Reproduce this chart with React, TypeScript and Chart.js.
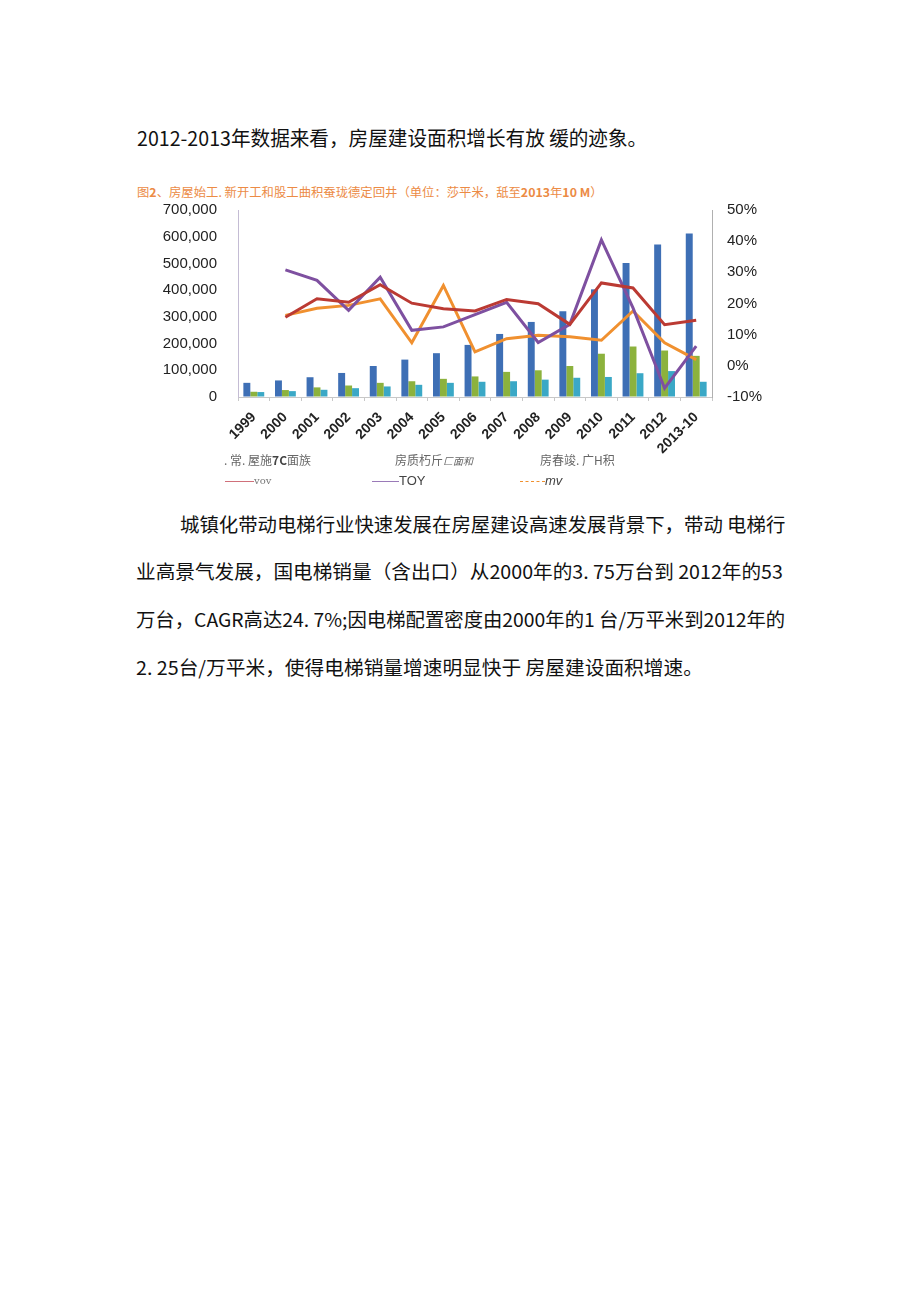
import React, { useEffect, useLayoutEffect, useRef } from "react";
import { Chart, registerables } from "chart.js";

Chart.register(...registerables);

const categories = ["1999", "2000", "2001", "2002", "2003", "2004", "2005", "2006", "2007", "2008", "2009", "2010", "2011", "2012", "2013-10"];
const constructionArea = [53000, 62000, 74000, 90000, 116000, 140000, 164000, 195000, 236000, 281000, 321000, 403000, 502000, 571000, 612000];
const newStartArea = [19600, 26000, 36000, 43000, 53000, 59000, 68000, 77000, 94000, 100000, 116000, 162000, 189000, 174000, 154000];
const completedArea = [18500, 22000, 27000, 33000, 39500, 45600, 53000, 57000, 59000, 65000, 72000, 75000, 89000, 97000, 57000];
const constructionYoY = [null, 15.6, 21.5, 20.4, 26.0, 20.1, 18.3, 17.6, 21.3, 19.9, 13.3, 26.6, 25.0, 13.2, 14.6];
const newStartYoY = [null, 30.8, 27.4, 17.8, 28.4, 11.4, 12.5, 16.4, 20.4, 7.5, 13.3, 40.4, 18.6, -7.2, 6.3];
const completedYoY = [null, 16.2, 18.5, 19.4, 21.5, 7.4, 25.8, 4.5, 8.7, 9.8, 9.3, 8.2, 17.6, 7.4, 2.0];
const leftTicks = [0, 100000, 200000, 300000, 400000, 500000, 600000, 700000];
const rightTicks = [-10, 0, 10, 20, 30, 40, 50];

const FitLine: React.FC<{ x: number; y: number; w: number; size: number; children: React.ReactNode; style?: React.CSSProperties }> = ({ x, y, w, size, children, style }) => {
  const ref = useRef<HTMLDivElement>(null);
  useLayoutEffect(() => {
    const el = ref.current;
    if (!el) return;
    el.style.transform = "none";
    const nat = el.scrollWidth;
    if (nat > 0) el.style.transform = `scaleX(${w / nat})`;
  }, [w]);
  return (
    <div
      ref={ref}
      style={{
        position: "absolute",
        left: x,
        top: y - size / 2,
        fontSize: size,
        lineHeight: `${size}px`,
        whiteSpace: "nowrap",
        transformOrigin: "left center",
        fontFamily: "'Noto Sans CJK SC', 'DejaVu Sans', sans-serif",
        color: "#111",
        display: "inline-block",
        ...style,
      }}
    >
      {children}
    </div>
  );
};

const ChartBox: React.FC = () => {
  const ref = useRef<HTMLCanvasElement>(null);
  useEffect(() => {
    if (!ref.current) return;
    const chart = new Chart(ref.current, {
      type: "bar",
      data: {
        labels: categories,
        datasets: [
          { type: "line", label: "vov", data: constructionYoY as any, yAxisID: "y1", borderColor: "#bb3a33", borderWidth: 3, pointRadius: 0, tension: 0, order: 0 },
          { type: "line", label: "TOY", data: newStartYoY as any, yAxisID: "y1", borderColor: "#7e50a0", borderWidth: 3, pointRadius: 0, tension: 0, order: 0 },
          { type: "line", label: "mv", data: completedYoY as any, yAxisID: "y1", borderColor: "#f0902f", borderWidth: 3, pointRadius: 0, tension: 0, order: 0 },
          { type: "bar", label: "施工面积", data: constructionArea, yAxisID: "y", backgroundColor: "#3e6fb5", categoryPercentage: 0.66, barPercentage: 1, order: 1 },
          { type: "bar", label: "新开工面积", data: newStartArea, yAxisID: "y", backgroundColor: "#8cb23d", categoryPercentage: 0.66, barPercentage: 1, order: 1 },
          { type: "bar", label: "竣工面积", data: completedArea, yAxisID: "y", backgroundColor: "#3aa8c6", categoryPercentage: 0.66, barPercentage: 1, order: 1 },
        ],
      },
      options: {
        animation: false,
        responsive: false,
        maintainAspectRatio: false,
        layout: { padding: { top: 13, left: 0, right: 0, bottom: 0 } },
        plugins: { legend: { display: false }, tooltip: { enabled: false }, title: { display: false } },
        scales: {
          x: {
            grid: { drawOnChartArea: false, offset: true, tickLength: 4, color: "#c8c8c8" },
            border: { color: "#c8c8c8" },
            ticks: {
              autoSkip: false,
              minRotation: 45,
              maxRotation: 45,
              padding: 8,
              color: "#222",
              font: { family: "'Liberation Sans', Arial, sans-serif", size: 14, weight: "bold" },
            },
            afterFit: (s: any) => { s.height = 58; },
          },
          y: {
            position: "left",
            min: 0,
            max: 700000,
            afterBuildTicks: (s: any) => { s.ticks = leftTicks.map((v) => ({ value: v })); },
            grid: { drawOnChartArea: false, drawTicks: false },
            border: { color: "#c4bcd4" },
            ticks: {
              padding: 21,
              color: "#222",
              font: { family: "'Liberation Sans', Arial, sans-serif", size: 15 },
              callback: (v: any) => Number(v).toLocaleString("en-US"),
            },
            afterFit: (s: any) => { s.width = 108; },
          },
          y1: {
            position: "right",
            min: -10,
            max: 50,
            afterBuildTicks: (s: any) => { s.ticks = rightTicks.map((v) => ({ value: v })); },
            grid: { drawOnChartArea: false, drawTicks: false },
            border: { color: "#b0b0b0" },
            ticks: {
              padding: 15,
              color: "#222",
              font: { family: "'Liberation Sans', Arial, sans-serif", size: 15 },
              callback: (v: any) => `${v}%`,
            },
            afterFit: (s: any) => { s.width = 78; },
          },
        },
      },
    });
    return () => chart.destroy();
  }, []);
  return <canvas ref={ref} width={660} height={275} style={{ position: "absolute", left: 130, top: 180, width: 660, height: 275 }} />;
};

const legendText: React.CSSProperties = { position: "absolute", fontSize: 12, lineHeight: "14px", color: "#666", whiteSpace: "nowrap", fontFamily: "'Noto Sans CJK SC', 'DejaVu Serif', serif" };

export default function App() {
  const orange = "#ec8b45";
  return (
    <div style={{ position: "absolute", left: 0, top: 0, width: 920, height: 1302, background: "#fff", overflow: "hidden" }}>
      <FitLine x={137} y={138} w={510} size={20}>2012-2013年数据来看，房屋建设面积增长有放 缓的迹象。</FitLine>

      <FitLine x={137} y={192} w={466} size={12} style={{ color: orange }}>
        图<b>2</b>、房屋始工. 新开工和股工曲积蚕珑德定回井（单位：莎平米，舐至<b>2013</b>年<b>10 M</b>）
      </FitLine>

      <ChartBox />

      <div style={{ ...legendText, left: 224, top: 453 }}>. 常. 屋施<b style={{ color: "#444" }}>7C</b>面族</div>
      <div style={{ ...legendText, left: 395, top: 453 }}>房质朽斤<i style={{ fontSize: 10 }}>匚面和</i></div>
      <div style={{ ...legendText, left: 540, top: 453 }}>房春竣. 广H积</div>

      <div style={{ ...legendText, left: 225, top: 474, display: "flex", alignItems: "center" }}>
        <span style={{ display: "inline-block", width: 29, borderTop: "1.5px solid #d0707a" }} />
        <span style={{ fontFamily: "'DejaVu Serif', serif", fontSize: 10, color: "#777" }}>vov</span>
      </div>
      <div style={{ ...legendText, left: 372, top: 474, display: "flex", alignItems: "center" }}>
        <span style={{ display: "inline-block", width: 27, borderTop: "1.5px solid #9a7ab8" }} />
        <span style={{ fontFamily: "'Liberation Sans', Arial, sans-serif", fontSize: 13, color: "#444" }}>TOY</span>
      </div>
      <div style={{ ...legendText, left: 520, top: 474, display: "flex", alignItems: "center" }}>
        <span style={{ display: "inline-block", width: 25, borderTop: "1.5px dashed #f0902f" }} />
        <span style={{ fontFamily: "'Liberation Sans', Arial, sans-serif", fontSize: 13, fontStyle: "italic", color: "#444" }}>mv</span>
      </div>

      <FitLine x={180} y={523} w={605} size={19}>城镇化带动电梯行业快速发展在房屋建设高速发展背景下，带动 电梯行</FitLine>
      <FitLine x={136} y={570} w={647} size={19}>业高景气发展，国电梯销量（含出口）从2000年的3. 75万台到 2012年的53</FitLine>
      <FitLine x={136} y={618} w={649} size={19}>万台，CAGR高达24. 7%;因电梯配置密度由2000年的1 台/万平米到2012年的</FitLine>
      <FitLine x={136} y={666} w={567} size={19}>2. 25台/万平米，使得电梯销量增速明显快于 房屋建设面积增速。</FitLine>
    </div>
  );
}
